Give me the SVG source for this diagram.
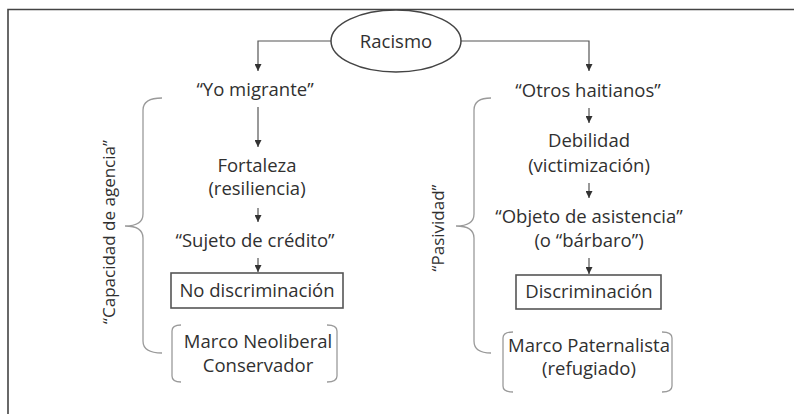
<svg xmlns="http://www.w3.org/2000/svg" width="794" height="414" viewBox="0 0 794 414">
<defs>
<marker id="ah" viewBox="0 0 8 8" refX="8" refY="4" markerWidth="7" markerHeight="7" markerUnits="userSpaceOnUse" orient="auto">
<path d="M0,0 L8,4 L0,8 Z" fill="#333"/>
</marker>
<style>
text{font-family:"Open Sans","Liberation Sans",Arial,sans-serif;font-size:18.5px;fill:#303030;text-anchor:middle}
text.rot{font-size:17px}
.frame{stroke:#444;stroke-width:1.6;fill:none}
.conn{stroke:#555;stroke-width:1.2;fill:none;marker-end:url(#ah)}
.box{stroke:#555;stroke-width:1.6;fill:#fff}
.brk{stroke:#9a9a9a;stroke-width:1.3;fill:none}
</style>
</defs>
<rect width="794" height="414" fill="#fff"/>
<path class="frame" d="M8,414 L8,9.5 L794,9.5"/>

<g id="connectors">
<path class="conn" d="M331,41 L258,41 L258,71"/>
<path class="conn" d="M461,41 L589,41 L589,71"/>
<path class="conn" d="M258,107 L258,147"/>
<path class="conn" d="M258,208 L258,222"/>
<path class="conn" d="M258,258 L258,272"/>
<path class="conn" d="M589,108 L589,123"/>
<path class="conn" d="M589,183 L589,198"/>
<path class="conn" d="M589,258 L589,274"/>
</g>

<g id="racismo">
<ellipse cx="396" cy="41" rx="65" ry="31" fill="#fff" stroke="#444" stroke-width="1.5"/>
<text x="396" y="48">Racismo</text>
</g>

<g id="yo-migrante"><text x="255" y="96">“Yo migrante”</text></g>
<g id="fortaleza"><text x="257" y="172">Fortaleza</text><text x="257" y="195">(resiliencia)</text></g>
<g id="sujeto"><text x="255" y="247">“Sujeto de crédito”</text></g>
<g id="no-discriminacion">
<rect class="box" x="171" y="273" width="172" height="35"/>
<text x="257" y="297">No discriminación</text>
</g>
<g id="marco-neoliberal">
<path class="brk" d="M181,325 Q172,325 172,331 L172,376 Q172,382 181,382"/>
<path class="brk" d="M327,325 Q337,325 337,331 L337,376 Q337,382 327,382"/>
<text x="258" y="348">Marco Neoliberal</text>
<text x="258" y="372">Conservador</text>
</g>
<g id="capacidad">
<path class="brk" d="M162,98 Q143,98 143,110 L143,214 Q143,226 125,226 Q143,226 143,238 L143,341 Q143,353 162,353"/>
<text class="rot" transform="translate(115,232) rotate(-90)">“Capacidad de agencia”</text>
</g>

<g id="otros-haitianos"><text x="588" y="97">“Otros haitianos”</text></g>
<g id="debilidad"><text x="589" y="147">Debilidad</text><text x="589" y="172">(victimización)</text></g>
<g id="objeto"><text x="589" y="223">“Objeto de asistencia”</text><text x="589" y="247">(o “bárbaro”)</text></g>
<g id="discriminacion">
<rect class="box" x="516" y="275" width="145" height="34"/>
<text x="589" y="298">Discriminación</text>
</g>
<g id="marco-paternalista">
<path class="brk" d="M513,332 Q503,332 503,338 L503,386 Q503,392 513,392"/>
<path class="brk" d="M662,332 Q672,332 672,338 L672,386 Q672,392 662,392"/>
<text x="589" y="352">Marco Paternalista</text>
<text x="589" y="375">(refugiado)</text>
</g>
<g id="pasividad">
<path class="brk" d="M491,98 Q474,98 474,110 L474,214 Q474,226 456,226 Q474,226 474,238 L474,341 Q474,353 491,353"/>
<text class="rot" transform="translate(444,228) rotate(-90)">“Pasividad”</text>
</g>
</svg>
